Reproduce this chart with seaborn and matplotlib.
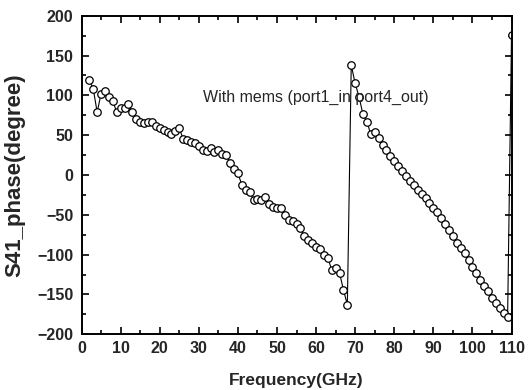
import matplotlib
matplotlib.use("Agg")
import matplotlib.pyplot as plt
import seaborn as sns
import pandas as pd
from matplotlib.ticker import MultipleLocator

freq = list(range(2, 111))
phase = [
    119, 108, 79, 102, 106, 98, 93, 79, 84, 84,
    89, 79, 70, 66, 65, 66, 67, 62, 59, 57,
    54, 52, 55, 59, 45, 44, 41, 40, 36, 31,
    30, 34, 29, 31, 27, 25, 15, 8, 2, -12,
    -19, -21, -31, -30, -32, -27, -37, -40, -41, -42,
    -50, -56, -58, -61, -67, -77, -82, -85, -91, -93,
    -100, -104, -119, -117, -123, -144, -163, 138, 115, 98,
    76, 67, 51, 54, 46, 38, 31, 24, 18, 11,
    5, -1, -7, -13, -19, -24, -29, -35, -41, -47,
    -54, -62, -69, -77, -85, -92, -98, -107, -115, -123,
    -132, -139, -146, -155, -161, -167, -173, -178, 176,
]

annotation = "With mems (port1_in port4_out)"
x_label = "Frequency(GHz)"
y_label = "S41_phase(degree)"

df = pd.DataFrame({"freq": freq, "phase": phase})

sns.set_style("ticks")
plt.rcParams["font.family"] = ["Liberation Sans", "DejaVu Sans"]

fig = plt.figure(figsize=(5.28, 3.90), dpi=100)
ax = fig.add_axes([0.1544, 0.1428, 0.8144, 0.8169])

sns.lineplot(data=df, x="freq", y="phase", ax=ax, color="black", linewidth=0.8,
             marker="o", markersize=5.4, markerfacecolor="white",
             markeredgecolor="black", markeredgewidth=0.9, sort=False)

ax.set_xlim(0, 110)
ax.set_ylim(-200, 200)
ax.xaxis.set_major_locator(MultipleLocator(10))
ax.xaxis.set_minor_locator(MultipleLocator(5))
ax.yaxis.set_major_locator(MultipleLocator(50))
ax.yaxis.set_minor_locator(MultipleLocator(25))
ax.tick_params(which="both", direction="in", top=True, right=True, width=1.2, color="black")
ax.tick_params(which="major", length=5, labelsize=11.5)
ax.tick_params(axis="x", which="major", pad=5)
ax.tick_params(axis="y", which="major", pad=6)
ax.tick_params(which="minor", length=3)
for lab in ax.get_xticklabels() + ax.get_yticklabels():
    lab.set_fontweight("bold")
for sp in ax.spines.values():
    sp.set_linewidth(1.4)
    sp.set_color("black")

ax.set_xlabel(x_label, fontsize=12.5, fontweight="bold", labelpad=12)
ax.set_ylabel(y_label, fontsize=16, fontweight="bold", labelpad=8)
ax.text(31.2, 97, annotation, fontsize=11.5, va="center", ha="left")

fig.savefig("out.png", dpi=100)
